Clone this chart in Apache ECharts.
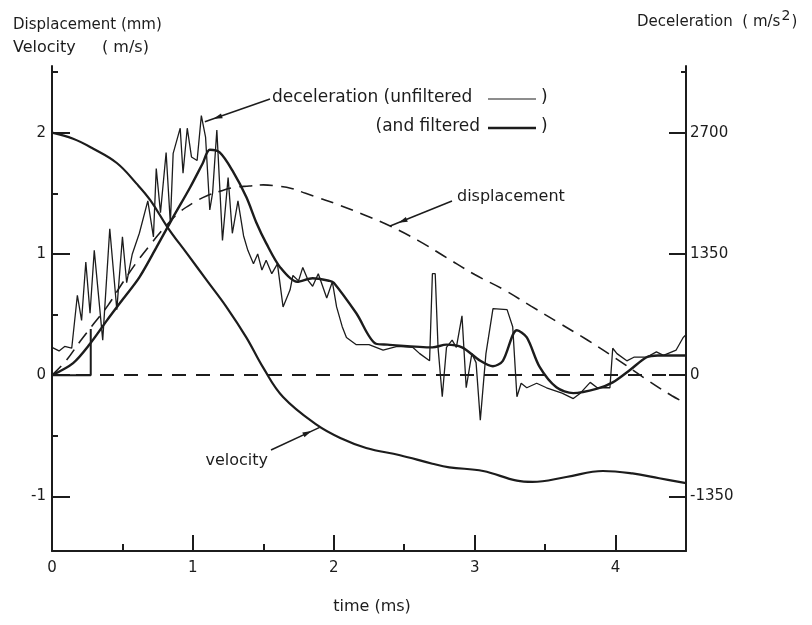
<!DOCTYPE html>
<html><head><meta charset="utf-8">
<script src="https://cdn.jsdelivr.net/npm/echarts@6/dist/echarts.min.js"></script>
<style>html,body{margin:0;padding:0;background:#fff}#c{width:812px;height:625px}</style>
</head><body><div id="c"></div>
<script>
// ---- data ----
const timeMajorTicks = [0, 1, 2, 3, 4];
const timeMinorTicks = [0.5, 1.5, 2.5, 3.5];
const leftMajorTicks = [-1, 0, 1, 2];
const leftMinorTicks = [-0.5, 0.5, 1.5, 2.5];
const rightMajorTicks = [-1350, 0, 1350, 2700];

// velocity (m/s) vs time (ms)
const velocity = [[0,2.0],[0.15,1.95],[0.29,1.87],[0.46,1.75],[0.6,1.58],[0.7,1.44],[0.82,1.22],[0.96,1.0],[1.1,0.78],[1.24,0.56],[1.38,0.31],[1.5,0.06],[1.64,-0.18],[1.88,-0.41],[2.05,-0.52],[2.23,-0.6],[2.47,-0.66],[2.7,-0.73],[2.82,-0.76],[3.06,-0.79],[3.3,-0.87],[3.41,-0.88],[3.65,-0.84],[3.91,-0.79],[4.12,-0.81],[4.31,-0.85],[4.5,-0.89]];

// displacement (mm)
const displacement = [[0,0],[0.1,0.12],[0.2,0.28],[0.3,0.43],[0.4,0.58],[0.5,0.76],[0.6,0.93],[0.7,1.08],[0.8,1.22],[0.9,1.34],[1.0,1.42],[1.1,1.48],[1.2,1.52],[1.3,1.55],[1.4,1.56],[1.5,1.57],[1.6,1.56],[1.7,1.54],[1.8,1.5],[1.9,1.46],[2.0,1.42],[2.2,1.33],[2.4,1.23],[2.6,1.11],[2.8,0.97],[3.0,0.83],[3.2,0.71],[3.4,0.57],[3.6,0.43],[3.8,0.29],[4.0,0.14],[4.2,-0.02],[4.4,-0.17],[4.5,-0.23]];

// deceleration, filtered (m/s^2)
const decelFiltered = [[0,0],[0.15,135],[0.27,350],[0.39,610],[0.5,840],[0.62,1090],[0.74,1420],[0.86,1760],[0.98,2090],[1.07,2360],[1.12,2510],[1.19,2480],[1.28,2280],[1.38,1980],[1.45,1700],[1.52,1470],[1.62,1200],[1.74,1040],[1.85,1080],[1.97,1050],[2.0,1030],[2.16,690],[2.3,350],[2.38,340],[2.7,310],[2.8,340],[2.91,310],[3.04,160],[3.13,100],[3.2,160],[3.3,500],[3.37,420],[3.46,95],[3.58,-135],[3.7,-200],[3.87,-150],[3.98,-80],[4.1,55],[4.22,200],[4.3,220],[4.5,220]];

// deceleration, unfiltered (m/s^2)
const decelUnfiltered = [[0,310],[0.05,270],[0.09,320],[0.14,300],[0.18,890],[0.21,610],[0.24,1260],[0.27,690],[0.3,1390],[0.36,390],[0.41,1630],[0.46,730],[0.5,1540],[0.53,1030],[0.57,1350],[0.62,1580],[0.68,1940],[0.72,1540],[0.74,2300],[0.77,1810],[0.81,2480],[0.84,1690],[0.86,2470],[0.91,2750],[0.93,2250],[0.96,2750],[0.99,2430],[1.03,2390],[1.06,2890],[1.09,2650],[1.12,1840],[1.14,2030],[1.17,2730],[1.21,1500],[1.25,2200],[1.28,1580],[1.32,1940],[1.36,1550],[1.39,1390],[1.43,1240],[1.46,1350],[1.49,1170],[1.52,1280],[1.56,1130],[1.6,1240],[1.64,760],[1.69,950],[1.71,1110],[1.75,1050],[1.78,1200],[1.82,1050],[1.85,990],[1.89,1130],[1.95,860],[1.99,1040],[2.02,760],[2.06,540],[2.09,420],[2.16,340],[2.25,340],[2.35,280],[2.45,320],[2.56,310],[2.61,240],[2.68,160],[2.7,1130],[2.72,1130],[2.74,310],[2.77,-240],[2.8,310],[2.84,390],[2.87,310],[2.91,660],[2.94,-140],[2.98,240],[3.01,140],[3.04,-500],[3.08,240],[3.13,740],[3.23,730],[3.27,540],[3.3,-240],[3.33,-90],[3.37,-140],[3.44,-90],[3.51,-140],[3.62,-200],[3.7,-260],[3.75,-200],[3.82,-80],[3.87,-140],[3.96,-140],[3.98,300],[4.01,240],[4.08,160],[4.13,200],[4.22,200],[4.29,260],[4.34,220],[4.43,280],[4.48,420],[4.5,450]];

// trigger step trace (left units)
const triggerStep = [[0,0],[0.275,0],[0.275,0.38]];

// ---- chart ----
const INK = '#1c1c1c';
const FONT = 'DejaVu Sans';
const chart = echarts.init(document.getElementById('c'), null, {renderer: 'canvas'});

function xAx(ticks, len, labels, showLine) {
  return {
    type: 'value', min: 0, max: 4.5, position: 'bottom',
    axisLine: {show: showLine, onZero: false, lineStyle: {color: INK, width: 2}},
    axisTick: {show: true, inside: true, length: len, customValues: ticks, lineStyle: {color: INK, width: 2}},
    axisLabel: {show: labels, customValues: ticks, margin: 10, color: INK, fontFamily: FONT, fontSize: 15, formatter: v => String(v)},
    splitLine: {show: false}
  };
}
function yAx(pos, min, max, ticks, len, labels, showLine, margin) {
  return {
    type: 'value', position: pos, min: min, max: max,
    axisLine: {show: showLine, onZero: false, lineStyle: {color: INK, width: 2}},
    axisTick: {show: true, inside: true, length: len, customValues: ticks, lineStyle: {color: INK, width: 2}},
    axisLabel: {show: labels, customValues: ticks, margin: margin, color: INK, fontFamily: FONT, fontSize: 15, formatter: v => String(v)},
    splitLine: {show: false}
  };
}

const option = {
  animation: false,
  backgroundColor: '#fff',
  grid: {left: 52, right: 126, top: 66, bottom: 74, containLabel: false},
  xAxis: [
    xAx(timeMajorTicks, 16, true, true),
    xAx(timeMinorTicks, 7, false, false)
  ],
  yAxis: [
    yAx('left', -1.45, 2.55, leftMajorTicks, 18, true, true, 6),
    yAx('left', -1.45, 2.55, leftMinorTicks, 6, false, false, 6),
    yAx('right', -1957.5, 3442.5, rightMajorTicks, 17, true, true, 4),
    yAx('right', -1957.5, 3442.5, [3375], 5, false, false, 4)
  ],
  series: [
    {name: 'velocity', type: 'line', xAxisIndex: 0, yAxisIndex: 0, data: velocity, smooth: 0.4, showSymbol: false,
      lineStyle: {color: INK, width: 2.2},
      markLine: {silent: true, symbol: 'none', label: {show: false},
        lineStyle: {color: INK, width: 1.8, type: [14, 10]}, data: [{yAxis: 0}]}},
    {name: 'displacement', type: 'line', xAxisIndex: 0, yAxisIndex: 0, data: displacement, smooth: 0.4, showSymbol: false,
      lineStyle: {color: INK, width: 1.6, type: [13, 8]}},
    {name: 'trigger', type: 'line', xAxisIndex: 0, yAxisIndex: 0, data: triggerStep, showSymbol: false,
      lineStyle: {color: INK, width: 2}},
    {name: 'decel unfiltered', type: 'line', xAxisIndex: 0, yAxisIndex: 2, data: decelUnfiltered, showSymbol: false,
      lineStyle: {color: INK, width: 1.3}},
    {name: 'decel filtered', type: 'line', xAxisIndex: 0, yAxisIndex: 2, data: decelFiltered, smooth: 0.3, showSymbol: false,
      lineStyle: {color: INK, width: 2.4}}
  ]
};
chart.setOption(option);

// ---- annotations ----
function txt(x, y, s, size, align) {
  return {type: 'text', x: x, y: y, silent: true,
    style: {text: s, font: size + 'px "' + FONT + '"', fill: INK, align: align || 'left', verticalAlign: 'middle',
      textAlign: align || 'left', textVerticalAlign: 'middle'}};
}
function seg(x1, y1, x2, y2, w) {
  return {type: 'line', silent: true, shape: {x1: x1, y1: y1, x2: x2, y2: y2}, style: {stroke: INK, lineWidth: w || 1.3}};
}
function leader(x1, y1, tip) {
  const p = chart.convertToPixel({seriesIndex: 0}, tip);
  const x2 = p[0], y2 = p[1];
  const dx = x2 - x1, dy = y2 - y1, L = Math.hypot(dx, dy);
  const ux = dx / L, uy = dy / L, nx = -uy, ny = ux;
  const tx = x2 - ux * 9, ty = y2 - uy * 9;
  const bx = tx - ux * 9, by = ty - uy * 9;
  return [seg(x1, y1, x2, y2, 1.5),
    {type: 'polygon', silent: true, shape: {points: [[tx, ty], [bx + nx * 2.6, by + ny * 2.6], [bx - nx * 2.6, by - ny * 2.6]]},
      style: {fill: INK}}];
}
const cv = document.createElement('canvas').getContext('2d');
cv.font = '15px "' + FONT + '"';
const decTitle = 'Deceleration  ( m/s';
const decW = cv.measureText(decTitle).width;

const graphics = [
  txt(13, 25, 'Displacement (mm)', 15),
  txt(13, 48, 'Velocity', 16),
  txt(102, 48, '( m/s)', 16),
  txt(637, 22, decTitle, 15),
  txt(637 + decW + 1, 16, '2', 14),
  txt(637 + decW + 11, 22, ')', 15),
  txt(372, 607, 'time (ms)', 16, 'center'),
  txt(272, 98, 'deceleration (unfiltered', 17),
  seg(488, 99, 536, 99, 1.2),
  txt(541, 98, ')', 17),
  txt(480, 127, '(and filtered', 17, 'right'),
  seg(488, 128, 536, 128, 2.6),
  txt(541, 127, ')', 17),
  txt(457, 197, 'displacement', 16),
  txt(268, 461, 'velocity', 16, 'right')
].concat(
  leader(270, 99, [1.085, 2.09]),
  leader(452, 201, [2.4, 1.23]),
  leader(271, 450, [1.9, -0.43])
);
chart.setOption({graphic: {elements: graphics}});
</script>
</body></html>
